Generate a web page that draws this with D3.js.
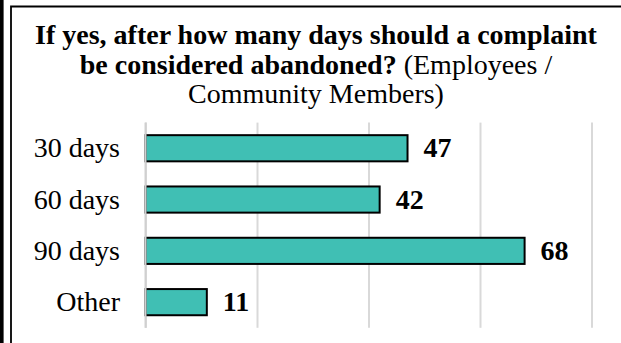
<!DOCTYPE html>
<html>
<head>
<meta charset="utf-8">
<script src="https://cdn.jsdelivr.net/npm/d3@7"></script>
<style>
  html, body { margin: 0; padding: 0; background: #fff; }
  svg { display: block; }
  text { font-family: "Liberation Serif", "Times New Roman", serif; fill: #000; }
</style>
</head>
<body>
<div id="chart"></div>
<script>
// Survey answers: days after which a complaint counts as abandoned
const categories = ["30 days", "60 days", "90 days", "Other"];
const counts = [47, 42, 68, 11];
const tickValues = [0, 20, 40, 60, 80];

const width = 621, height = 343;
const svg = d3.select("#chart").append("svg")
  .attr("width", width).attr("height", height);

// Page frame: heavy rule on the far left, thin box edge on left and top
svg.append("rect").attr("x", 0).attr("y", 0).attr("width", 3.6).attr("height", height).attr("fill", "#000");
svg.append("path")
  .attr("d", `M11,${height} L11,6.5 L${width},6.5`)
  .attr("fill", "none").attr("stroke", "#000").attr("stroke-width", 1.8);

// Title, three centred lines
const title = svg.append("text").attr("text-anchor", "middle").style("font-size", "28px");
title.append("tspan").attr("x", 316).attr("y", 43.5).attr("font-weight", "bold")
  .text("If yes, after how many days should a complaint");
const l2 = title.append("tspan").attr("x", 316).attr("y", 73.5);
l2.append("tspan").attr("font-weight", "bold").text("be considered abandoned?");
l2.append("tspan").text(" (Employees /");
title.append("tspan").attr("x", 316).attr("y", 103).text("Community Members)");

// Scales
const x = d3.scaleLinear().domain([0, 80]).range([145.5, 591.5]);
const y = d3.scaleBand().domain(categories).range([122.6, 327.8])
  .paddingInner(0.49).paddingOuter(0.245);

// Vertical gridlines from the value axis ticks
const grid = svg.append("g").attr("class", "grid");
grid.call(d3.axisBottom(x).tickValues(tickValues).tickSize(327.8 - 122.6).tickFormat(""))
  .attr("transform", "translate(0,122.6)");
grid.select(".domain").remove();
grid.selectAll(".tick line").attr("stroke", "#d9d9d9").attr("stroke-width", 2);

// Bars
svg.append("g").selectAll("rect").data(categories).join("rect")
  .attr("x", x(0))
  .attr("y", d => y(d))
  .attr("width", (d, i) => x(counts[i]) - x(0))
  .attr("height", y.bandwidth())
  .attr("fill", "#40bfb4")
  .attr("stroke", "#000").attr("stroke-width", 2);

// Zero line drawn over the bar ends
svg.append("line")
  .attr("x1", x(0)).attr("x2", x(0)).attr("y1", 122.6).attr("y2", 327.8)
  .attr("stroke", "#d0d0d0").attr("stroke-width", 2);

// Category labels
svg.append("g").selectAll("text").data(categories).join("text")
  .attr("x", 120)
  .attr("y", d => y(d) + y.bandwidth() / 2 + 9)
  .attr("text-anchor", "end")
  .style("font-size", "28px")
  .text(d => d);

// Value labels
svg.append("g").selectAll("text").data(categories).join("text")
  .attr("x", (d, i) => x(counts[i]) + 16)
  .attr("y", d => y(d) + y.bandwidth() / 2 + 9)
  .attr("font-weight", "bold")
  .style("font-size", "28px")
  .text((d, i) => counts[i]);
</script>
</body>
</html>
